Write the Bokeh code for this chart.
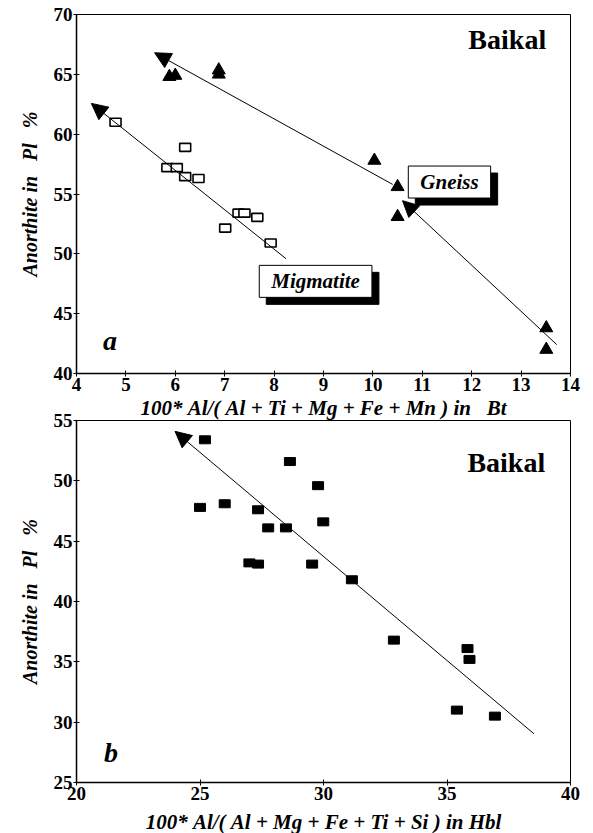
from bokeh.plotting import figure
from bokeh.models import (Arrow, NormalHead, Label, ColumnDataSource, FixedTicker, Range1d)
from bokeh.layouts import column
from bokeh.embed import file_html
from bokeh.resources import INLINE

# ---------------- data: panel a (Bt) ----------------
mig_x = [4.79, 5.84, 6.03, 6.20, 6.20, 6.47, 7.01, 7.28, 7.40, 7.66, 7.93]
mig_y = [61.0, 57.2, 57.2, 58.9, 56.45, 56.3, 52.15, 53.4, 53.4, 53.05, 50.9]
gn_x = [5.88, 6.00, 6.88, 6.88, 10.03, 10.50, 10.50, 13.51, 13.51]
gn_y = [64.8, 64.9, 65.0, 65.35, 57.8, 55.6, 53.1, 43.8, 42.0]
# trend arrows (start -> arrow tip)
a_x0 = [10.40, 13.72, 8.24]
a_y0 = [55.8, 42.42, 49.6]
a_x1 = [5.58, 10.60, 4.30]
a_y1 = [66.8, 54.44, 62.57]
xticks_a = [4, 5, 6, 7, 8, 9, 10, 11, 12, 13, 14]
yticks_a = [40, 45, 50, 55, 60, 65, 70]

# ---------------- data: panel b (Hbl) ----------------
hbl_x = [25.2, 28.64, 29.78, 25.0, 26.0, 27.35, 27.76, 28.48, 29.99, 27.0, 27.35,
         29.54, 31.15, 32.85, 35.83, 35.91, 35.4, 36.94]
hbl_y = [53.4, 51.6, 49.6, 47.8, 48.1, 47.6, 46.1, 46.1, 46.6, 43.2, 43.1,
         43.1, 41.8, 36.8, 36.1, 35.2, 31.0, 30.5]
b_x0 = [38.52]
b_y0 = [29.04]
b_x1 = [23.99]
b_y1 = [54.1]
xticks_b = [20, 25, 30, 35, 40]
yticks_b = [25, 30, 35, 40, 45, 50, 55]

FONT = "Liberation Serif"
NB = "\u00a0"
PL = NB + "+" + NB


def style(p, xt, yt):
    p.xaxis.ticker = FixedTicker(ticks=xt)
    p.yaxis.ticker = FixedTicker(ticks=yt)
    for ax in (p.xaxis[0], p.yaxis[0]):
        ax.major_label_text_font = FONT
        ax.major_label_text_font_style = "bold"
        ax.major_label_text_font_size = "19px"
        ax.major_label_text_color = "black"
        ax.axis_label_text_font = FONT
        ax.axis_label_text_font_style = "bold italic"
        ax.axis_label_text_font_size = "21px"
        ax.axis_label_text_color = "black"
        ax.axis_line_width = 1.5
        ax.axis_line_color = "black"
        ax.major_tick_in = 3
        ax.major_tick_out = 3
        ax.major_tick_line_color = "black"
        ax.minor_tick_line_color = None
        ax.major_label_standoff = 1
    p.xaxis.axis_label_standoff = 2
    p.yaxis.axis_label_standoff = 10
    p.yaxis.axis_label_text_font_size = "20px"
    p.xgrid.visible = False
    p.ygrid.visible = False
    p.outline_line_color = "black"
    p.outline_line_width = 1
    p.background_fill_color = "white"
    p.border_fill_color = "white"


def boxed(p, x, y, text):
    common = dict(x=x, y=y, text=text, text_font=FONT, text_font_style="bold italic",
                  text_font_size="21px", text_align="center", text_baseline="middle",
                  padding=(12, 4))
    p.add_layout(Label(**common, text_color="black", background_fill_color="black",
                       border_line_color="black", x_offset=7, y_offset=-7))
    p.add_layout(Label(**common, text_color="black", background_fill_color="white",
                       border_line_color="black", border_line_width=1))


def head():
    return NormalHead(size=16, fill_color="black", line_color="black", line_width=1)


YLAB = "Anorthite in" + NB * 3 + "Pl" + NB * 3 + "%"

# ---------------- panel a ----------------
p1 = figure(frame_width=494, frame_height=359, output_backend="svg", toolbar_location=None,
            x_range=Range1d(4, 14), y_range=Range1d(40, 70),
            min_border_left=76, min_border_top=14, min_border_right=16, min_border_bottom=30)
style(p1, xticks_a, yticks_a)
p1.xaxis.axis_label = ("100*" + NB + "Al/(" + NB + "Al" + PL + "Ti" + PL + "Mg" + PL + "Fe"
                       + PL + "Mn" + NB + ")" + NB + "in" + NB * 3 + "Bt")
p1.yaxis.axis_label = YLAB

p1.add_layout(Arrow(end=head(),
                    source=ColumnDataSource(dict(x0=a_x0, y0=a_y0, x1=a_x1, y1=a_y1)),
                    x_start="x0", y_start="y0", x_end="x1", y_end="y1",
                    line_color="black", line_width=1))
p1.rect(mig_x, mig_y, width=11, height=8, width_units="screen", height_units="screen",
        fill_color="white", line_color="black", line_width=1.6)
p1.scatter(gn_x, gn_y, marker="triangle", size=13, fill_color="black", line_color="black")

boxed(p1, 11.55, 56.0, "Gneiss")
boxed(p1, 8.84, 47.7, "Migmatite")
p1.add_layout(Label(x=12.72, y=67.9, text="Baikal", text_font=FONT, text_font_style="bold",
                    text_font_size="28px", text_align="center", text_baseline="middle",
                    text_color="black"))
p1.add_layout(Label(x=4.68, y=42.75, text="a", text_font=FONT, text_font_style="bold italic",
                    text_font_size="28px", text_align="center", text_baseline="middle",
                    text_color="black"))

# ---------------- panel b ----------------
p2 = figure(frame_width=494, frame_height=362, output_backend="svg", toolbar_location=None,
            x_range=Range1d(20, 40), y_range=Range1d(25, 55),
            min_border_left=76, min_border_top=12, min_border_right=16, min_border_bottom=30)
style(p2, xticks_b, yticks_b)
p2.margin = (-14, 0, 0, 0)
p2.border_fill_alpha = 0
p2.xaxis.axis_label_standoff = 7
p2.xaxis.axis_label = ("100*" + NB + "Al/(" + NB + "Al" + PL + "Mg" + PL + "Fe" + PL + "Ti"
                       + PL + "Si" + NB + ")" + NB + "in" + NB + "Hbl")
p2.yaxis.axis_label = YLAB

p2.add_layout(Arrow(end=head(),
                    source=ColumnDataSource(dict(x0=b_x0, y0=b_y0, x1=b_x1, y1=b_y1)),
                    x_start="x0", y_start="y0", x_end="x1", y_end="y1",
                    line_color="black", line_width=1))
p2.rect(hbl_x, hbl_y, width=11, height=8, width_units="screen", height_units="screen",
        fill_color="black", line_color="black")
p2.add_layout(Label(x=37.4, y=51.5, text="Baikal", text_font=FONT, text_font_style="bold",
                    text_font_size="28px", text_align="center", text_baseline="middle",
                    text_color="black"))
p2.add_layout(Label(x=21.4, y=27.5, text="b", text_font=FONT, text_font_style="bold italic",
                    text_font_size="28px", text_align="center", text_baseline="middle",
                    text_color="black"))

layout = column(p1, p2, spacing=0)
open("out.html", "w").write(file_html(layout, INLINE))
